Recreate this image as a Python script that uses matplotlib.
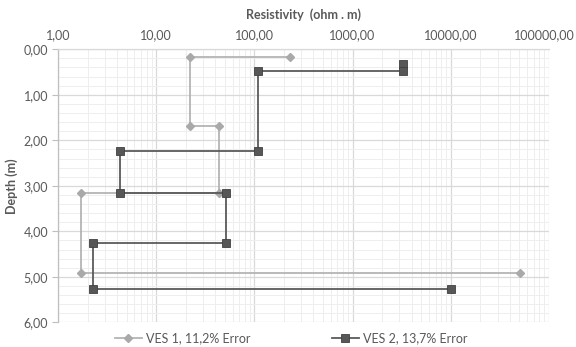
import matplotlib
matplotlib.use("Agg")
import matplotlib.pyplot as plt
import matplotlib.transforms as mtransforms
from matplotlib.ticker import FixedLocator, LogLocator, MultipleLocator, FuncFormatter, NullFormatter

plt.rcParams['font.family'] = ['Lato', 'DejaVu Sans']

ves1_res = [230, 22.3, 22.3, 43.3, 43.3, 1.71, 1.71, 50400]
ves1_depth = [0.18, 0.18, 1.69, 1.69, 3.16, 3.16, 4.91, 4.91]
ves2_res = [3260, 3260, 110, 110, 4.25, 4.25, 51.4, 51.4, 2.26, 2.26, 10100]
ves2_depth = [0.32, 0.48, 0.48, 2.24, 2.24, 3.16, 3.16, 4.26, 4.26, 5.27, 5.27]
ves1_label = "VES 1, 11,2% Error"
ves2_label = "VES 2, 13,7% Error"
x_title = "Resistivity  (ohm . m)"
y_title = "Depth (m)"

fig = plt.figure(figsize=(5.76, 3.47), dpi=100)
ax = fig.add_axes([0.1007, 0.071, 0.8523, 0.787])

ax.plot(ves1_res, ves1_depth, color='#B4B4B4', lw=1.3, marker='D', ms=4.2,
        mfc='#A9A9A9', mec='#A9A9A9', label=ves1_label, zorder=3)
ax.plot(ves2_res, ves2_depth, color='#5A5A5A', lw=1.3, marker='s', ms=5.6,
        mfc='#575757', mec='#404040', mew=0.6, label=ves2_label, zorder=4)

ax.set_xscale('log')
ax.set_xlim(1, 100000)
ax.set_ylim(6, 0)
ax.xaxis.set_major_locator(FixedLocator([1, 10, 100, 1000, 10000, 100000]))
ax.xaxis.set_minor_locator(LogLocator(base=10, subs=range(2, 10), numticks=20))
ax.xaxis.set_minor_formatter(NullFormatter())
ax.xaxis.set_major_formatter(FuncFormatter(lambda v, p: f"{v:.2f}".replace('.', ',')))
ax.yaxis.set_major_locator(MultipleLocator(1))
ax.yaxis.set_minor_locator(MultipleLocator(0.2))
ax.yaxis.set_major_formatter(FuncFormatter(lambda v, p: f"{v:.2f}".replace('.', ',')))

ax.xaxis.tick_top()
ax.xaxis.set_label_position('top')
ax.tick_params(axis='x', which='both', length=0, labelsize=9, labelcolor='#595959', pad=6)
ax.tick_params(axis='y', which='major', length=4, color='#BFBFBF', labelsize=9,
               labelcolor='#595959', pad=3)
ax.tick_params(axis='y', which='minor', length=0)

ax.grid(True, which='major', color='#D9D9D9', lw=0.9)
ax.grid(True, which='minor', color='#EEEEEE', lw=0.7)
ax.set_axisbelow(True)

for s in ['right', 'bottom']:
    ax.spines[s].set_visible(False)
ax.spines['left'].set_color('#BFBFBF')
ax.spines['top'].set_color('#D9D9D9')
ax.spines['left'].set_linewidth(0.9)
ax.spines['top'].set_linewidth(0.9)

ax.set_xlabel(x_title, fontsize=9, fontweight='bold', color='#595959', labelpad=7)
ax.set_ylabel(y_title, fontsize=9, fontweight='bold', color='#595959', labelpad=4)

# nudge the last x tick label so it stays inside the figure
fig.canvas.draw()
last = ax.get_xticklabels()[-1]
last.set_transform(last.get_transform() + mtransforms.ScaledTranslation(-3/72, 0, fig.dpi_scale_trans))

fig.legend(loc='lower center', bbox_to_anchor=(0.505, -0.025), ncol=2, frameon=False,
           fontsize=9, labelcolor='#595959', columnspacing=6.5, handlelength=2.2,
           handletextpad=0.3)

fig.savefig('out.png', dpi=100)
